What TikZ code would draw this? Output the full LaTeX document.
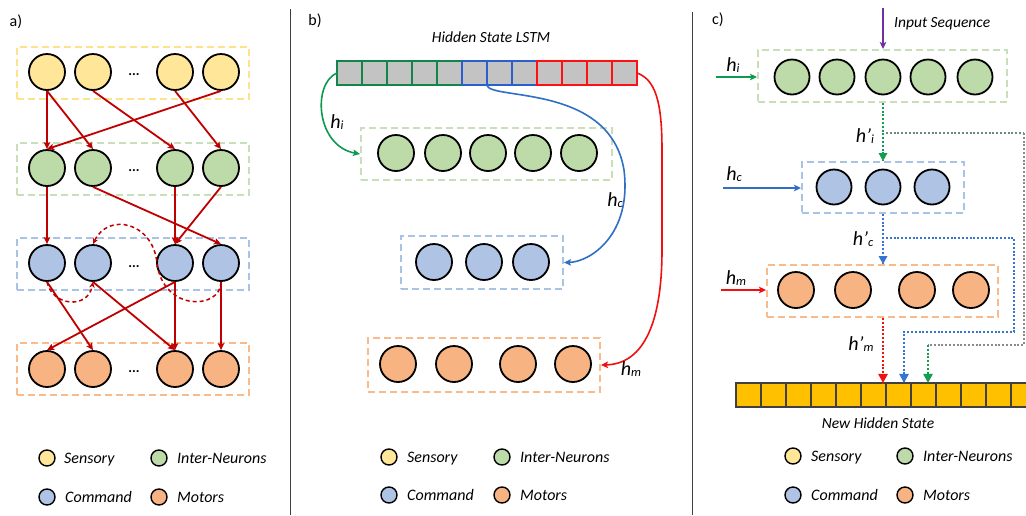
\documentclass[tikz,border=0pt]{standalone}
\usepackage{fontspec}
\setmainfont{Carlito}
\usetikzlibrary{arrows.meta,calc}
\definecolor{cyel}{HTML}{FFE699}
\definecolor{cgrn}{HTML}{BDDAA9}
\definecolor{cblu}{HTML}{AFC3E5}
\definecolor{corg}{HTML}{F7B381}
\definecolor{byel}{HTML}{FFE38C}
\definecolor{bgrn}{HTML}{C9DFB9}
\definecolor{bblu}{HTML}{A8C3E3}
\definecolor{borg}{HTML}{F9BA8C}
\definecolor{dred}{HTML}{C00000}
\definecolor{bargrn}{HTML}{13854A}
\definecolor{barblu}{HTML}{2A5FCC}
\definecolor{barred}{HTML}{FF1111}
\definecolor{cellgray}{HTML}{C3C3C3}
\definecolor{pgreen}{HTML}{0E9A4E}
\definecolor{pblue}{HTML}{2F6FC4}
\definecolor{pred}{HTML}{F01010}
\definecolor{ppurp}{HTML}{7030A0}
\definecolor{dgreen}{HTML}{10A050}
\definecolor{dblue}{HTML}{3575D0}
\definecolor{dgray}{HTML}{6E8A7C}
\definecolor{dgray2}{HTML}{8A8A8A}
\definecolor{nhsfill}{HTML}{FFC000}
\newcommand{\hsb}[2]{{\fontsize{20}{20}\selectfont\itshape #1}{\raisebox{-0.35ex}{\fontsize{12.5}{12.5}\selectfont\itshape #2}}}
\tikzset{
  neuron/.style={circle,draw=black,line width=1.8pt,minimum size=36pt,inner sep=0pt},
  neuronc/.style={neuron,minimum size=35pt},
  lyr/.style={rectangle,line width=2pt,dash pattern=on 7pt off 4pt,inner sep=0pt},
  lgd/.style={circle,draw=black,line width=1.4pt,minimum size=16pt,inner sep=0pt},
  lgdtxt/.style={anchor=base west,inner sep=0pt,font=\fontsize{16}{16}\selectfont\itshape},
  ttl/.style={inner sep=0pt,font=\fontsize{15.5}{16}\selectfont\itshape},
  plab/.style={inner sep=0pt,font=\fontsize{16}{16}\selectfont},
  dotsn/.style={inner sep=0pt,font=\fontsize{14}{14}\selectfont\bfseries},
  rarr/.style={draw=dred,line width=1.8pt,-{Stealth[length=7pt,width=6.5pt,inset=1.5pt]}},
  rdash/.style={draw=dred,line width=1.5pt,dash pattern=on 4pt off 3pt},
  carr/.style={line width=1.8pt,-{Stealth[length=7pt,width=6.5pt,inset=1.5pt]}},
  darr/.style={line width=2.8pt,dash pattern=on 2pt off 1.8pt},
  sep/.style={draw=black!75,line width=1pt}
}
\begin{document}
\begin{tikzpicture}[x=1pt,y=-1pt]
\useasboundingbox (0,0) rectangle (1026,515);
\fill[white] (0,0) rectangle (1026,515);

% separators
\draw[sep] (290,9) -- (290,515);
\draw[sep] (692,12) -- (692,515);

% ---------------- panel a ----------------
\node[plab] (la) at (16,22) {a)};
\node[lyr,draw=byel,minimum width=232pt,minimum height=52pt] (aS) at (133,73) {};
\node[lyr,draw=bgrn,minimum width=232pt,minimum height=52pt] (aI) at (133,168.5) {};
\node[lyr,draw=bblu,minimum width=232pt,minimum height=52pt] (aC) at (133,264) {};
\node[lyr,draw=borg,minimum width=232pt,minimum height=52pt] (aM) at (133,369) {};

\foreach \n/\x in {1/47,2/93,3/175,4/221}{
  \node[neuron,fill=cyel] (S\n) at (\x,72) {};
  \node[neuron,fill=cgrn] (I\n) at (\x,168) {};
  \node[neuron,fill=cblu] (C\n) at (\x,263) {};
  \node[neuron,fill=corg] (M\n) at (\x,369) {};
}
\node[dotsn] (d1) at (134,75) {...};
\node[dotsn] (d2) at (134,171) {...};
\node[dotsn] (d3) at (134,267) {...};
\node[dotsn] (d4) at (134,372) {...};

\draw[rarr] (S1.south) -- (I1.north);
\draw[rarr] (S1.south) -- (I2.north);
\draw[rarr] (S2.south) -- (I3.north);
\draw[rarr] (S3.south) -- (I4.north);
\draw[rarr] (S4.south) -- (I1.north);
\draw[rarr] (I1.south) -- (C1.north);
\draw[rarr] (I2.south) -- (C4.north);
\draw[rarr] (I3.south) -- (C3.north);
\draw[rarr] (I4.south) -- (C3.north);
\draw[rarr] (C1.south) -- (M2.north);
\draw[rarr] (C2.south) -- (M3.north);
\draw[rarr] (C3.south) -- (M1.north);
\draw[rarr] (C3.south) -- (M3.north);
\draw[rarr] (C4.south) -- (M4.north);
\draw[rdash,-{Stealth[length=6pt,width=5.5pt]}] (C4.south) .. controls (221,310) and (163,312) .. (157,263) .. controls (153,222) and (108,212) .. (C2.north);
\draw[rdash,-{Stealth[length=6pt,width=5.5pt]}] (C1.south) .. controls (52,306) and (88,310) .. (C2.south);

% legend a
\node[lgd,fill=cyel] (aL1) at (47,458) {};
\node[lgdtxt] (aT1) at (64,463.5) {Sensory};
\node[lgd,fill=cgrn] (aL2) at (159,458) {};
\node[lgdtxt] (aT2) at (177,463.5) {Inter-Neurons};
\node[lgd,fill=cblu] (aL3) at (47,497) {};
\node[lgdtxt] (aT3) at (65,502.5) {Command};
\node[lgd,fill=corg] (aL4) at (159,497) {};
\node[lgdtxt] (aT4) at (177,502.5) {Motors};

% ---------------- panel b ----------------
\node[plab] (lb) at (315,21) {b)};
\node[ttl] (hst) at (491,37) {Hidden State LSTM};
\node[minimum width=300pt,minimum height=24pt,inner sep=0pt] (hsl) at (487,73) {};
\foreach \i in {0,...,11}{
  \fill[cellgray] (337+25*\i,61) rectangle ++(25,24);
}
\foreach \i in {0,...,4}{\draw[bargrn,line width=2pt] (337+25*\i,61) rectangle ++(25,24);}
\foreach \i in {5,...,7}{\draw[barblu,line width=2pt] (337+25*\i,61) rectangle ++(25,24);}
\foreach \i in {8,...,11}{\draw[barred,line width=2pt] (337+25*\i,61) rectangle ++(25,24);}
\coordinate (hsB) at (487,86);

\node[lyr,draw=bgrn,minimum width=251pt,minimum height=52pt] (bI) at (486.5,154) {};
\foreach \n/\x in {1/396,2/443,3/488,4/533,5/579}{
  \node[neuron,fill=cgrn] (bI\n) at (\x,153) {};
}
\node[lyr,draw=bblu,minimum width=162pt,minimum height=53pt] (bC) at (482,262.5) {};
\foreach \n/\x in {1/434,2/484,3/531}{
  \node[neuron,fill=cblu] (bC\n) at (\x,262) {};
}
\node[lyr,draw=borg,minimum width=232pt,minimum height=54pt] (bM) at (484,365) {};
\foreach \n/\x in {1/398,2/454,3/518,4/573}{
  \node[neuron,fill=corg] (bM\n) at (\x,364) {};
}
\draw[carr,draw=pgreen,line width=1.6pt] (hsl.west) .. controls (312,84) and (316,146) .. (bI.west);
\draw[carr,draw=pblue,line width=1.6pt] (hsB) .. controls (495,100) and (610,85) .. (624,170) .. controls (632,235) and (590,262) .. (bC.east);
\draw[carr,draw=pred,line width=1.6pt] (hsl.east) .. controls (655,80) and (662,100) .. (662,150) -- (662,250) .. controls (662,330) and (640,364) .. (bM.east);
\node[inner sep=0pt] (lhi) at (337,122) {\hsb{h}{i}};
\node[inner sep=0pt] (lhc) at (615,200) {\hsb{h}{c}};
\node[inner sep=0pt] (lhm) at (631,369) {\hsb{h}{m}};

% legend b
\node[lgd,fill=cyel] (bL1) at (389,457) {};
\node[lgdtxt] (bT1) at (407,462.5) {Sensory};
\node[lgd,fill=cgrn] (bL2) at (502,457) {};
\node[lgdtxt] (bT2) at (520,462.5) {Inter-Neurons};
\node[lgd,fill=cblu] (bL3) at (389,495) {};
\node[lgdtxt] (bT3) at (407,500.5) {Command};
\node[lgd,fill=corg] (bL4) at (502,495) {};
\node[lgdtxt] (bT4) at (520,500.5) {Motors};

% ---------------- panel c ----------------
\node[plab] (lc) at (718,20) {c)};
\node[lyr,draw=bgrn,minimum width=249pt,minimum height=52pt] (cI) at (882.5,76) {};
\foreach \n/\x in {1/792,2/837,3/883,4/928,5/975}{
  \node[neuronc,fill=cgrn] (cI\n) at (\x,77) {};
}
\node[lyr,draw=bblu,minimum width=162pt,minimum height=51pt] (cC) at (883,187.5) {};
\foreach \n/\x in {1/834,2/883,3/932}{
  \node[neuronc,fill=cblu] (cC\n) at (\x,187) {};
}
\node[lyr,draw=borg,minimum width=231pt,minimum height=52pt] (cM) at (882.5,291) {};
\foreach \n/\x in {1/796,2/853,3/917,4/971}{
  \node[neuron,fill=corg] (cM\n) at (\x,290) {};
}
\node[fill=nhsfill,minimum width=300pt,minimum height=24pt,inner sep=0pt] (nhs) at (886,395) {};
\foreach \i in {0,...,11}{
  \draw[black!75,line width=1.2pt] (736+25*\i,383) rectangle ++(25,24);
}
\node[ttl] (nhst) at (878,423) {New Hidden State};

\coordinate (inS) at (883,8);
\node[ttl,anchor=west] (inst) at (894,24) {Input Sequence};
\draw[carr,draw=ppurp] (inS) -- (cI.north -| inS);
\coordinate (hiS) at (716,77);
\coordinate (hcS) at (723,188);
\coordinate (hmS) at (721,290);
\draw[carr,draw=pgreen] (hiS) -- (cI.west |- hiS);
\draw[carr,draw=pblue] (hcS) -- (cC.west |- hcS);
\draw[carr,draw=pred] (hmS) -- (cM.west |- hmS);
\node[inner sep=0pt] (lchi) at (733,65) {\hsb{h}{i}};
\node[inner sep=0pt] (lchc) at (734,174) {\hsb{h}{c}};
\node[inner sep=0pt] (lchm) at (736,278) {\hsb{h}{m}};

% dotted flows
\draw[darr,draw=dgreen] (cI.south -| cI3) -- (cC.north -| cI3);
\draw[darr,draw=dblue] (cC.south -| cC2) -- (cM.north -| cC2);
\draw[darr,draw=pred] (cM.south -| cC2) -- (nhs.north -| cC2);
\coordinate (gA) at (886,133);
\coordinate (gB) at (1024,133);
\coordinate (gC) at (1024,345);
\coordinate (gD) at (928,345);
\coordinate (bA) at (886,238);
\coordinate (bB) at (1014,238);
\coordinate (bC2) at (1014,332);
\coordinate (bD) at (904,332);
\draw[darr,draw=dgray] (gA) -- (gB);
\draw[darr,draw=dgray2] (gB) -- (gC) -- (gD);
\draw[darr,draw=dgreen] (gD) -- (nhs.north -| gD);
\draw[darr,draw=dblue] (bA) -- (bB) -- (bC2) -- (bD) -- (nhs.north -| bD);
% tips
\fill[dblue] ($(cM.north -| cC2)$) -- ++(-4.5,-8) -- ++(9,0) -- cycle;
\fill[dgreen] ($(cC.north -| cI3)$) -- ++(-4.5,-8) -- ++(9,0) -- cycle;
\fill[pred] ($(nhs.north -| cC2)$) -- ++(-5,-9) -- ++(10,0) -- cycle;
\fill[dblue] ($(nhs.north -| bD)$) -- ++(-5,-9) -- ++(10,0) -- cycle;
\fill[dgreen] ($(nhs.north -| gD)$) -- ++(-5,-9) -- ++(10,0) -- cycle;

\node[inner sep=0pt] (lhpi) at (865,136) {\hsb{h’}{i}};
\node[inner sep=0pt] (lhpc) at (863,239) {\hsb{h’}{c}};
\node[inner sep=0pt] (lhpm) at (861,344) {\hsb{h’}{m}};

% legend c
\node[lgd,fill=cyel] (cL1) at (793,456) {};
\node[lgdtxt] (cT1) at (811,461.5) {Sensory};
\node[lgd,fill=cgrn] (cL2) at (905,456) {};
\node[lgdtxt] (cT2) at (923,461.5) {Inter-Neurons};
\node[lgd,fill=cblu] (cL3) at (793,495) {};
\node[lgdtxt] (cT3) at (811,500.5) {Command};
\node[lgd,fill=corg] (cL4) at (905,495) {};
\node[lgdtxt] (cT4) at (923,500.5) {Motors};
\end{tikzpicture}
\end{document}
